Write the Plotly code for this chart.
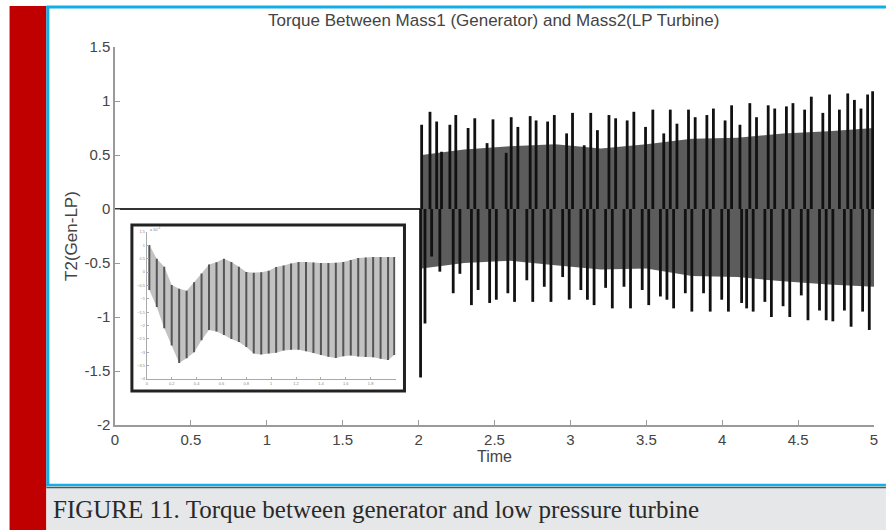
import plotly.graph_objects as go

# ---------------- data ----------------
# flat part before the disturbance
pre_t = [0.0, 1.0, 2.012]
pre_v = [0.0, 0.0, 0.0]

# oscillation upper extrema after t = 2 s
top_t = [2.020, 2.075, 2.119, 2.151, 2.206, 2.245, 2.326, 2.370, 2.451, 2.490,
         2.577, 2.610, 2.654, 2.735, 2.774, 2.850, 2.894, 2.975, 3.014, 3.091,
         3.134, 3.178, 3.254, 3.298, 3.374, 3.418, 3.495, 3.543, 3.615, 3.658,
         3.702, 3.778, 3.822, 3.899, 3.942, 4.019, 4.062, 4.117, 4.182, 4.226,
         4.303, 4.346, 4.423, 4.466, 4.543, 4.587, 4.663, 4.707, 4.772, 4.827,
         4.871, 4.914, 4.958, 4.991]
top_v = [0.78, 0.90, 0.81, 0.53, 0.78, 0.87, 0.75, 0.84, 0.61, 0.83,
         0.52, 0.85, 0.76, 0.86, 0.82, 0.81, 0.87, 0.70, 0.89, 0.59,
         0.89, 0.73, 0.87, 0.84, 0.82, 0.90, 0.76, 0.92, 0.70, 0.92,
         0.79, 0.92, 0.85, 0.87, 0.93, 0.82, 0.96, 0.78, 0.98, 0.85,
         0.96, 0.93, 0.95, 0.98, 0.92, 1.04, 0.89, 1.06, 0.92, 1.07,
         1.01, 0.93, 1.06, 1.09]

# oscillation lower extrema after t = 2 s
bot_t = [2.013, 2.042, 2.086, 2.140, 2.228, 2.272, 2.348, 2.392, 2.468, 2.512,
         2.588, 2.632, 2.713, 2.752, 2.828, 2.872, 2.949, 2.992, 3.069, 3.112,
         3.156, 3.232, 3.276, 3.353, 3.396, 3.473, 3.516, 3.593, 3.636, 3.680,
         3.757, 3.800, 3.877, 3.921, 3.997, 4.041, 4.128, 4.161, 4.204, 4.281,
         4.324, 4.401, 4.445, 4.521, 4.565, 4.641, 4.685, 4.729, 4.805, 4.849,
         4.925, 4.969]
bot_v = [-1.56, -1.06, -0.44, -0.58, -0.78, -0.60, -0.89, -0.75, -0.87, -0.84,
         -0.78, -0.86, -0.66, -0.86, -0.72, -0.86, -0.63, -0.84, -0.75, -0.84,
         -0.89, -0.73, -0.92, -0.72, -0.92, -0.75, -0.89, -0.81, -0.84, -0.92,
         -0.78, -0.95, -0.78, -0.95, -0.84, -0.95, -0.87, -0.92, -0.95, -0.86,
         -1.00, -0.90, -1.00, -0.80, -1.03, -0.94, -1.03, -1.04, -0.94, -1.09,
         -0.95, -1.12]

# dense band of the oscillation
band_t = [2.02, 2.3, 2.6, 2.9, 3.2, 3.5, 3.8, 4.1, 4.4, 4.7, 5.0]
band_hi = [0.50, 0.55, 0.58, 0.60, 0.56, 0.60, 0.65, 0.66, 0.70, 0.72, 0.75]
band_lo = [-0.55, -0.50, -0.48, -0.52, -0.56, -0.55, -0.62, -0.63, -0.67, -0.70, -0.72]

# inset (zoomed view), values in units of 1e-3
in_x = [0.02, 0.08, 0.14, 0.20, 0.26, 0.32, 0.38, 0.44, 0.50, 0.56,
        0.62, 0.68, 0.74, 0.80, 0.86, 0.92, 0.98, 1.04, 1.10, 1.16,
        1.22, 1.28, 1.34, 1.40, 1.46, 1.52, 1.58, 1.64, 1.70, 1.76,
        1.82, 1.88, 1.94, 1.99]
in_hi = [1.01, 0.50, 0.20, -0.48, -0.62, -0.70, -0.38, -0.05, 0.28, 0.37,
         0.50, 0.38, 0.20, 0.00, -0.02, -0.01, 0.05, 0.19, 0.25, 0.32,
         0.38, 0.38, 0.36, 0.34, 0.34, 0.35, 0.38, 0.45, 0.53, 0.55,
         0.56, 0.56, 0.56, 0.56]
in_lo = [-0.67, -1.31, -2.10, -2.75, -3.40, -3.22, -3.00, -2.55, -2.17, -2.22,
         -2.35, -2.50, -2.62, -2.80, -3.05, -3.08, -3.05, -3.02, -2.93, -2.91,
         -2.91, -2.96, -3.03, -3.10, -3.17, -3.21, -3.15, -3.12, -3.16, -3.18,
         -3.19, -3.24, -3.29, -3.10]

x_ticks = [0, 0.5, 1, 1.5, 2, 2.5, 3, 3.5, 4, 4.5, 5]
x_labels = ["0", "0.5", "1", "1.5", "2", "2.5", "3", "3.5", "4", "4.5", "5"]
y_ticks = [-2, -1.5, -1, -0.5, 0, 0.5, 1, 1.5]
y_labels = ["-2", "-1.5", "-1", "-0.5", "0", "0.5", "1", "1.5"]
in_x_ticks = [0, 0.2, 0.4, 0.6, 0.8, 1, 1.2, 1.4, 1.6, 1.8]
in_y_ticks = [-4, -3.5, -3, -2.5, -2, -1.5, -1, -0.5, 0, 0.5, 1, 1.5]

title_text = "Torque Between Mass1 (Generator) and Mass2(LP Turbine)"
caption_text = "FIGURE 11. Torque between generator and low pressure turbine"


# ---------------- build ----------------
def strokes(xs, y0s, y1s):
    sx, sy = [], []
    for x, a, b in zip(xs, y0s, y1s):
        sx += [x, x, None]
        sy += [a, b, None]
    return sx, sy


fig = go.Figure()

# dense band
fig.add_trace(go.Scatter(x=band_t + band_t[::-1], y=band_hi + band_lo[::-1],
                         fill="toself", fillcolor="#5c5c5c", mode="none",
                         hoverinfo="skip", showlegend=False))
# flat pre-fault line
fig.add_trace(go.Scatter(x=pre_t, y=pre_v, mode="lines",
                         line=dict(color="#333333", width=2), showlegend=False))
# vertical strokes to each extremum
sx, sy = strokes(top_t + bot_t, [0.0] * (len(top_t) + len(bot_t)), top_v + bot_v)
fig.add_trace(go.Scatter(x=sx, y=sy, mode="lines", connectgaps=False,
                         line=dict(color="#111111", width=2.8), showlegend=False))

# inset
fig.add_trace(go.Scatter(x=in_x + in_x[::-1], y=in_hi + in_lo[::-1],
                         fill="toself", fillcolor="#c2c2c2", mode="none",
                         xaxis="x2", yaxis="y2", hoverinfo="skip", showlegend=False))
ix, iy = strokes(in_x, in_lo, in_hi)
fig.add_trace(go.Scatter(x=ix, y=iy, mode="lines", connectgaps=False,
                         line=dict(color="#555555", width=2),
                         xaxis="x2", yaxis="y2", showlegend=False))

L, R, T, B = 115, 11, 47, 105
W, H = 889, 530
pw, ph = W - L - R, H - T - B


def px(x):
    return (x - L) / pw


def py(y):
    return (H - B - y) / ph


font_sans = "Liberation Sans, Arial, sans-serif"
shapes = [
    # red side bar
    dict(type="rect", xref="paper", yref="paper", x0=px(9), x1=px(46), y0=py(531), y1=py(6),
         fillcolor="#c00000", line=dict(width=0), layer="below"),
    # caption background
    dict(type="rect", xref="paper", yref="paper", x0=px(46), x1=px(890), y0=py(531), y1=py(487),
         fillcolor="#e6e7e8", line=dict(width=0), layer="below"),
    # blue frame
    dict(type="line", xref="paper", yref="paper", x0=px(46), x1=px(890), y0=py(7), y1=py(7),
         line=dict(color="#12aee8", width=3)),
    dict(type="line", xref="paper", yref="paper", x0=px(47.5), x1=px(47.5), y0=py(6), y1=py(486),
         line=dict(color="#12aee8", width=3)),
    dict(type="line", xref="paper", yref="paper", x0=px(46), x1=px(890), y0=py(485), y1=py(485),
         line=dict(color="#12aee8", width=2.5)),
    dict(type="line", xref="paper", yref="paper", x0=px(46), x1=px(890), y0=py(487.5), y1=py(487.5),
         line=dict(color="#555555", width=1.5)),
    # inset frame
    dict(type="rect", xref="paper", yref="paper", x0=px(132), x1=px(406), y0=py(391), y1=py(225),
         line=dict(color="#222222", width=3), fillcolor="rgba(0,0,0,0)"),
]

annotations = [
    dict(text=title_text, xref="paper", yref="paper", x=px(495), y=py(20), showarrow=False,
         xanchor="center", yanchor="middle", font=dict(family=font_sans, size=17, color="#444444")),
    dict(text=caption_text, xref="paper", yref="paper", x=px(51), y=py(509), showarrow=False,
         xanchor="left", yanchor="middle",
         font=dict(family="Liberation Serif, DejaVu Serif, serif", size=25, color="#2a2a2a")),
    dict(text="x 10<sup>-3</sup>", xref="paper", yref="paper", x=px(148), y=py(229), showarrow=False,
         xanchor="left", yanchor="middle", font=dict(family=font_sans, size=4, color="#777777")),
]

axis_common = dict(showgrid=False, zeroline=False, showline=True, linecolor="#9a9a9a",
                   linewidth=1.5, ticks="inside", ticklen=5, tickcolor="#9a9a9a", tickwidth=1.2,
                   tickfont=dict(family=font_sans, size=15, color="#444444"), mirror=False)

fig.update_layout(
    width=W, height=H, margin=dict(l=L, r=R, t=T, b=B),
    paper_bgcolor="white", plot_bgcolor="rgba(0,0,0,0)",
    showlegend=False,
    shapes=shapes, annotations=annotations,
    xaxis=dict(range=[0, 5], tickvals=x_ticks, ticktext=x_labels,
               title=dict(text="Time", font=dict(family=font_sans, size=16, color="#444444"), standoff=3),
               **axis_common),
    yaxis=dict(range=[-2, 1.5], tickvals=y_ticks, ticktext=y_labels,
               title=dict(text="T2(Gen-LP)", font=dict(family=font_sans, size=17, color="#444444"), standoff=2),
               **axis_common),
    xaxis2=dict(domain=[px(147), px(397)], anchor="y2", range=[0, 2], tickvals=in_x_ticks,
                showgrid=False, zeroline=False, showline=True, linecolor="#aaaaaa", linewidth=1,
                ticks="inside", ticklen=2, tickcolor="#aaaaaa",
                tickfont=dict(family=font_sans, size=4, color="#888888")),
    yaxis2=dict(domain=[py(379), py(232)], anchor="x2", range=[-4, 1.5], tickvals=in_y_ticks,
                showgrid=False, zeroline=False, showline=True, linecolor="#aaaaaa", linewidth=1,
                ticks="inside", ticklen=2, tickcolor="#aaaaaa",
                tickfont=dict(family=font_sans, size=4, color="#888888")),
)

fig.write_html("out.html")
